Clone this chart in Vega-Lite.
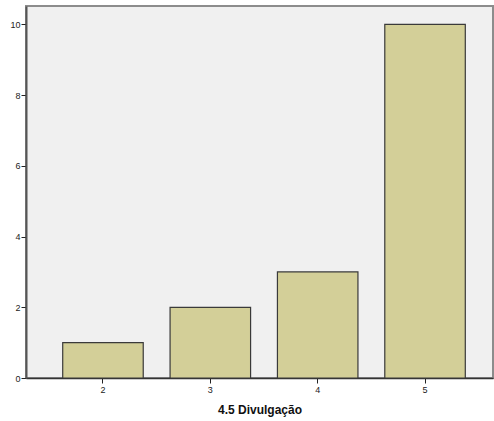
{
  "$schema": "https://vega.github.io/schema/vega-lite/v6.json",
  "autosize": {"type": "none"},
  "padding": {"left": 26, "top": 6, "right": 1, "bottom": 43},
  "width": 467,
  "height": 372,
  "background": "white",
  "config": {
    "view": {"fill": "#f0f0f0", "stroke": "#8c8c8c", "strokeWidth": 2},
    "font": "Liberation Sans"
  },
  "data": {"values": [
    {"x": "2", "count": 1},
    {"x": "3", "count": 2},
    {"x": "4", "count": 3},
    {"x": "5", "count": 10}
  ]},
  "mark": {"type": "bar", "fill": "#d3cf98", "stroke": "#3a3a3a", "strokeWidth": 1.2},
  "encoding": {
    "x": {
      "field": "x", "type": "ordinal",
      "scale": {"paddingInner": 0.25, "paddingOuter": 0.3, "align": 0.57},
      "axis": {
        "title": "4.5 Divulgação", "titleFont": "Liberation Sans", "titleFontSize": 12, "titleFontWeight": "bold",
        "titleColor": "#111", "titlePadding": 10,
        "labelAngle": 0, "labelFontSize": 9, "labelColor": "#222", "labelPadding": 2,
        "tickSize": 5, "tickColor": "#222", "domainColor": "#333", "domainWidth": 1.5
      }
    },
    "y": {
      "field": "count", "type": "quantitative",
      "scale": {"domain": [0, 10.52], "nice": false},
      "axis": {
        "title": null, "values": [0, 2, 4, 6, 8, 10], "grid": false,
        "labelFontSize": 9, "labelColor": "#222", "labelPadding": 1,
        "tickSize": 5, "tickColor": "#222", "domainColor": "#555", "domainWidth": 2
      }
    }
  }
}
